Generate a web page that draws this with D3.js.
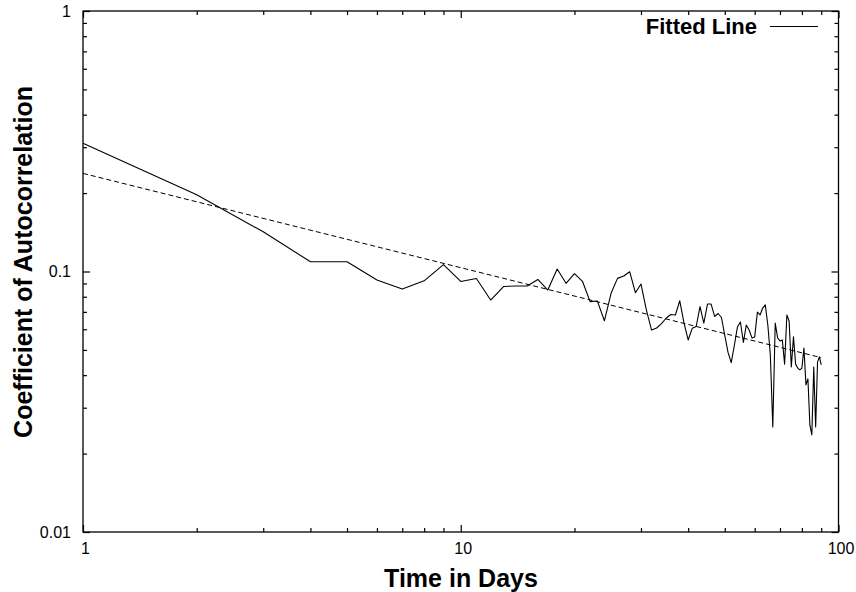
<!DOCTYPE html>
<html>
<head>
<meta charset="utf-8">
<script src="https://cdn.jsdelivr.net/npm/d3@7/dist/d3.min.js"></script>
<style>
  body { margin: 0; background: #fff; }
  svg { display: block; font-family: "Liberation Sans", Arial, Helvetica, sans-serif; }
</style>
</head>
<body>
<svg width="856" height="592"></svg>
<script>
// time lag (days) and autocorrelation
const days = [
  1, 2, 3, 4, 5, 6, 7, 8, 9, 10,
  11, 12, 13, 14, 15, 16, 17, 18, 19, 20,
  21, 22, 23, 24, 25, 26, 27, 28, 29, 30,
  31, 32, 33, 34, 35, 36, 37, 38, 39, 40,
  41, 42, 43, 44, 45, 46, 47, 48, 49, 50,
  51, 52, 53, 54, 55, 56, 57, 58, 59, 60,
  61, 62, 63, 64, 65, 66, 67, 68, 69, 70,
  71, 72, 73, 74, 75, 76, 77, 78, 79, 80,
  81, 82, 83, 84, 85, 86, 87, 88, 89, 90
];
const autocorr = [
  0.311, 0.197, 0.142, 0.109, 0.109, 0.0928, 0.0857, 0.0921, 0.1063, 0.0916,
  0.094, 0.0777, 0.0876, 0.088, 0.088, 0.0932, 0.0849, 0.1022, 0.0901, 0.0981,
  0.0917, 0.0766, 0.077, 0.0647, 0.0825, 0.0941, 0.0961, 0.0998, 0.0829, 0.0895,
  0.0712, 0.0596, 0.0607, 0.0631, 0.0663, 0.0684, 0.0681, 0.0772, 0.0634, 0.0546,
  0.0605, 0.0615, 0.0733, 0.0634, 0.075, 0.075, 0.0672, 0.069, 0.0666, 0.0568,
  0.0489, 0.0447, 0.052, 0.0612, 0.064, 0.0534, 0.0623, 0.0596, 0.0556, 0.0561,
  0.0699, 0.0681, 0.0724, 0.0744, 0.0623, 0.0478, 0.0253, 0.0634, 0.0556, 0.0541,
  0.0546, 0.0441, 0.0681, 0.0646, 0.043, 0.0561, 0.0441, 0.0426, 0.0419, 0.0426,
  0.0508, 0.0367, 0.0387, 0.0257, 0.0236, 0.043, 0.0253, 0.0449, 0.047, 0.0438
];

// power-law fit, end points
const fitDays = [1, 90];
const fitValues = [0.238, 0.0467];

const xMajor = [1, 10, 100];
const xMinor = [2, 3, 4, 5, 6, 7, 8, 9, 20, 30, 40, 50, 60, 70, 80, 90];
const yMajor = [0.01, 0.1, 1];
const yMinor = [0.02, 0.03, 0.04, 0.05, 0.06, 0.07, 0.08, 0.09,
  0.2, 0.3, 0.4, 0.5, 0.6, 0.7, 0.8, 0.9];

const legendLabel = "Fitted Line";

const svg = d3.select("svg");

const margin = { top: 11, left: 83, right: 17.5, bottom: 60 };
const width = 856 - margin.left - margin.right;
const height = 592 - margin.top - margin.bottom;

const graph = svg
  .append("g")
  .attr("transform", `translate(${margin.left},${margin.top})`);

const x = d3.scaleLog().domain([1, 100]).range([0, width]);
const y = d3.scaleLog().domain([0.01, 1]).range([height, 0]);

// axes, gnuplot style: ticks point inwards on all four sides
const fmt = (d) => (d >= 1 ? d3.format("d")(d) : String(d));

const styleAxis = (g) => {
  g.select(".domain").remove();
  g.selectAll(".tick line").attr("stroke", "#000").attr("stroke-width", 1.2);
  g.selectAll(".tick text")
    .attr("fill", "#000")
    .style("font-size", "16px")
    .style("font-family", "'Liberation Sans', Arial, Helvetica, sans-serif");
};

graph.append("g")
  .attr("transform", `translate(0,${height})`)
  .call(d3.axisBottom(x).tickValues(xMajor).tickFormat(fmt).tickSizeInner(-7).tickSizeOuter(0).tickPadding(11))
  .call(styleAxis)
  .selectAll(".tick text").attr("dx", 2);
graph.append("g")
  .attr("transform", `translate(0,${height})`)
  .call(d3.axisBottom(x).tickValues(xMinor).tickFormat("").tickSizeInner(-4).tickSizeOuter(0))
  .call(styleAxis);
graph.append("g")
  .call(d3.axisTop(x).tickValues(xMajor).tickFormat("").tickSizeInner(-7).tickSizeOuter(0))
  .call(styleAxis);
graph.append("g")
  .call(d3.axisTop(x).tickValues(xMinor).tickFormat("").tickSizeInner(-4).tickSizeOuter(0))
  .call(styleAxis);

graph.append("g")
  .call(d3.axisLeft(y).tickValues(yMajor).tickFormat(fmt).tickSizeInner(-7).tickSizeOuter(0).tickPadding(12))
  .call(styleAxis);
graph.append("g")
  .call(d3.axisLeft(y).tickValues(yMinor).tickFormat("").tickSizeInner(-4).tickSizeOuter(0))
  .call(styleAxis);
graph.append("g")
  .attr("transform", `translate(${width},0)`)
  .call(d3.axisRight(y).tickValues(yMajor).tickFormat("").tickSizeInner(-7).tickSizeOuter(0))
  .call(styleAxis);
graph.append("g")
  .attr("transform", `translate(${width},0)`)
  .call(d3.axisRight(y).tickValues(yMinor).tickFormat("").tickSizeInner(-4).tickSizeOuter(0))
  .call(styleAxis);

// frame
graph.append("rect")
  .attr("width", width)
  .attr("height", height)
  .attr("fill", "none")
  .attr("stroke", "#000")
  .attr("stroke-width", 1.3);

// data line
const line = d3.line()
  .x((d) => x(d[0]))
  .y((d) => y(d[1]));

graph.append("path")
  .datum(days.map((d, i) => [d, autocorr[i]]))
  .attr("d", line)
  .attr("fill", "none")
  .attr("stroke", "#000")
  .attr("stroke-width", 1.1)
  .attr("stroke-linejoin", "round");

// fitted line
graph.append("path")
  .datum(fitDays.map((d, i) => [d, fitValues[i]]))
  .attr("d", line)
  .attr("fill", "none")
  .attr("stroke", "#000")
  .attr("stroke-width", 1)
  .attr("stroke-dasharray", "5,3");

// legend
const legend = graph.append("g");
legend.append("text")
  .attr("x", 674)
  .attr("y", 15.5)
  .attr("dy", "0.35em")
  .attr("text-anchor", "end")
  .style("font-size", "22px")
  .style("font-weight", "bold")
  .text(legendLabel);
legend.append("line")
  .attr("x1", 687)
  .attr("x2", 735)
  .attr("y1", 15.5)
  .attr("y2", 15.5)
  .attr("stroke", "#000")
  .attr("stroke-width", 1.1);

// axis titles
svg.append("text")
  .attr("x", 461)
  .attr("y", 587)
  .attr("text-anchor", "middle")
  .style("font-size", "25px")
  .style("font-weight", "bold")
  .text("Time in Days");

svg.append("text")
  .attr("transform", "translate(32,262) rotate(-90)")
  .attr("text-anchor", "middle")
  .style("font-size", "25px")
  .style("font-weight", "bold")
  .text("Coefficient of Autocorrelation");
</script>
</body>
</html>
